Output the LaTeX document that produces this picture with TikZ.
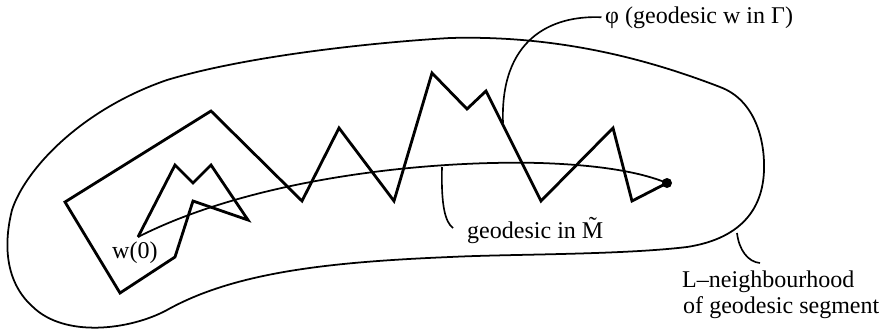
\documentclass[tikz,border=0pt]{standalone}
\usepackage{fontspec}
\setmainfont{Liberation Serif}
\usetikzlibrary{positioning}
\tikzset{
  outline/.style={line width=1.5pt},
  zigzag/.style={line width=2.4pt},
  leader/.style={line width=1.4pt},
  tag/.style={inner sep=0pt, anchor=base west}
}

\begin{document}
\begin{tikzpicture}[x=0.03cm, y=-0.03cm, font=\fontsize{20.5}{24}\selectfont]
  \useasboundingbox (0,0) rectangle (885,332);

  % neighbourhood of the segment
  \draw [outline] (450,38) .. controls (560,35) and (650,60) .. (720,87)
    .. controls (755,100) and (765,140) .. (764,170)
    .. controls (763,205) and (745,238) .. (687,247)
    .. controls (620,255) and (510,254) .. (450,257)
    .. controls (330,262) and (235,272) .. (167,310)
    .. controls (130,330) and (65,338) .. (33,307)
    .. controls (8,285) and (2,250) .. (12,210)
    .. controls (25,170) and (80,110) .. (167,80)
    .. controls (250,55) and (380,42) .. cycle;

  \coordinate (w0) at (138,237);
  \coordinate (end) at (667,183);
  \coordinate (phifoot) at (503,123);
  \coordinate (geofoot) at (442,167);
  \coordinate (nbhfoot) at (737,233);

  % the path phi(w)
  \draw [zigzag] (w0) -- (175,165) -- (193,183) -- (211,165) -- (248,220)
    -- (193,201) -- (175,257) -- (120,293) -- (65,202) -- (211,111)
    -- (302,201) -- (339,128) -- (394,201) -- (432,73) -- (467,109)
    -- (486,91) -- (541,201) -- (613,128) -- (632,201) -- (end);

  % geodesic
  \draw [outline] (w0) .. controls (250,180) and (420,160) .. (540,163)
    .. controls (600,165) and (640,172) .. (end);
  \fill (end) circle (5);

  \node (wlabel) [tag] at (112,258) {w(0)};
  \node (philabel) [tag] at (605,23) {φ (geodesic w in Γ)};
  \node (geolabel) [tag] at (467,238) {geodesic in \~M};
  \node (nbhlabel) [tag] at (682,287) {L–neighbourhood};
  \node (nbhlabel2) [tag] at (683,313) {of geodesic segment};

  \draw [leader] (phifoot) .. controls (500,40) and (550,15) .. ([xshift=-3pt]philabel.west);
  \draw [leader] (geofoot) .. controls (441,205) and (445,222) .. (453,228);
  \draw [leader] (nbhfoot) .. controls (739,250) and (748,262) .. (760,263);
\end{tikzpicture}
\end{document}
